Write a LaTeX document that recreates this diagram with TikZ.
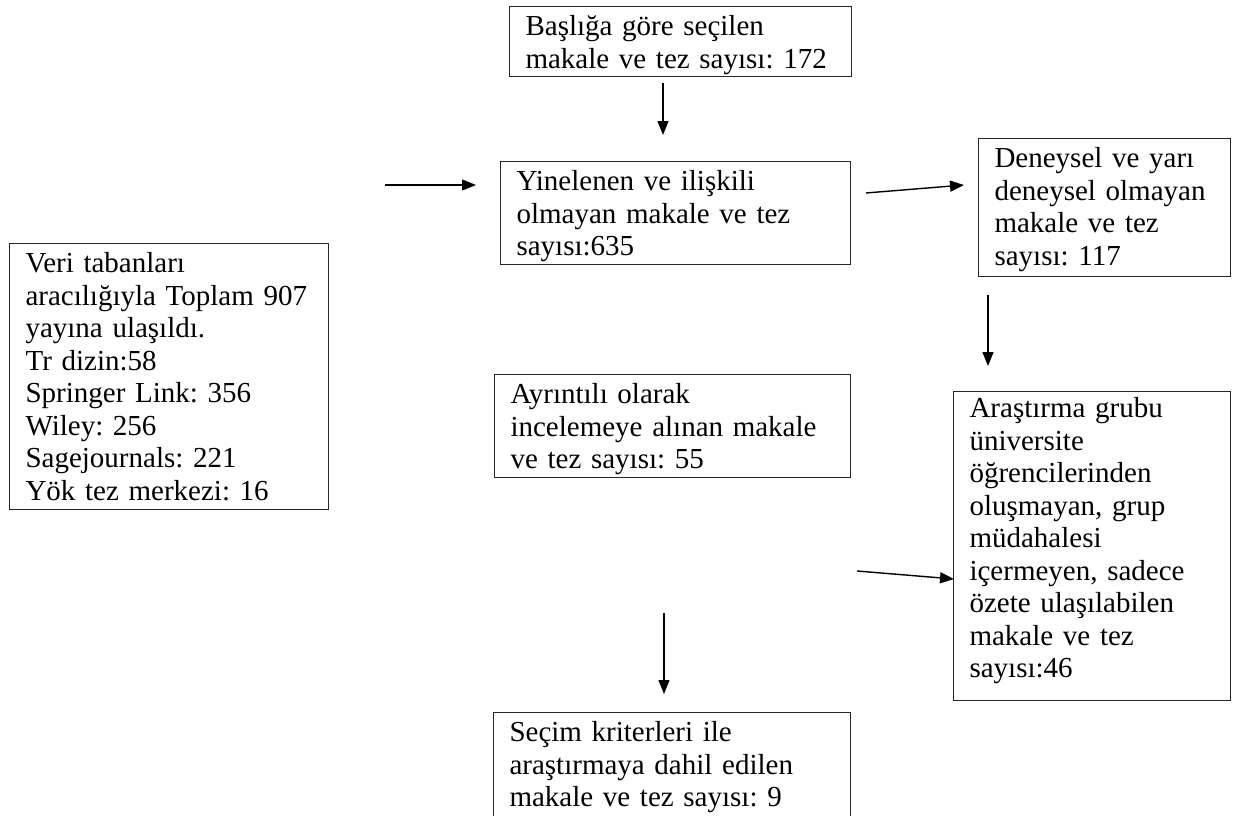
\documentclass[tikz,border=0pt]{standalone}
\usepackage{fontspec}
\setmainfont{Liberation Serif}
\usetikzlibrary{arrows.meta}
\newcommand\hstr{\rule{0pt}{29pt}}
\newcommand\dstr[1]{\rule[-#1pt]{0pt}{#1pt}}
\frenchspacing
\begin{document}
\begin{tikzpicture}[x=1pt,y=-1pt,
  box/.style={draw=black!85, line width=1.1pt, anchor=north west, align=left,
    inner xsep=16pt, inner ysep=0pt, font=\fontsize{29}{32.5}\selectfont\frenchspacing},
  arr/.style={draw=black, line width=1.4pt, -{Triangle[length=14pt,width=11pt]}}]
\useasboundingbox (0,0) rectangle (1243,816);
\clip (0,0) rectangle (1243,816);
\node[box, text width=310pt] (b1) at (509,6) {\hstr Başlığa göre seçilen\\makale ve tez sayısı: 172\dstr{8.5}};
\node[box, text width=318pt] (b2) at (500,161) {\hstr Yinelenen ve ilişkili\\olmayan makale ve tez\\sayısı:635\dstr{9}};
\node[box, text width=220pt] (b3) at (978,138) {\hstr Deneysel ve yarı\\deneysel olmayan\\makale ve tez\\sayısı: 117\dstr{11}};
\node[box, text width=287pt] (b0) at (9,243) {\hstr Veri tabanları\\aracılığıyla Toplam 907\\yayına ulaşıldı.\\Tr dizin:58\\Springer Link: 356\\Wiley: 256\\Sagejournals: 221\\Yök tez merkezi: 16\dstr{9}};
\node[box, text width=324pt] (b5) at (494,374) {\hstr Ayrıntılı olarak\\incelemeye alınan makale\\ve tez sayısı: 55\dstr{9}};
\node[box, text width=245pt] (b4) at (953,391) {\rule{0pt}{26pt}Araştırma grubu\\üniversite\\öğrencilerinden\\oluşmayan, grup\\müdahalesi\\içermeyen, sadece\\özete ulaşılabilen\\makale ve tez\\sayısı:46\dstr{23}};
\node[box, text width=325pt] (b6) at (493,712) {\hstr Seçim kriterleri ile\\araştırmaya dahil edilen\\makale ve tez sayısı: 9\dstr{20}};
\coordinate (t1s) at (663,83);  \coordinate (t1e) at (663,135);
\coordinate (l1s) at (385,185); \coordinate (l1e) at (476,185);
\coordinate (r1s) at (866,193); \coordinate (r1e) at (964,185);
\coordinate (d1s) at (988,295); \coordinate (d1e) at (988,366);
\coordinate (m1s) at (857,571); \coordinate (m1e) at (954,579);
\coordinate (c1s) at (664,613); \coordinate (c1e) at (664,694);
\draw[arr] (t1s) -- (t1e);
\draw[arr] (l1s) -- (l1e);
\draw[arr] (r1s) -- (r1e);
\draw[arr] (d1s) -- (d1e);
\draw[arr] (m1s) -- (m1e);
\draw[arr] (c1s) -- (c1e);
\end{tikzpicture}
\end{document}
